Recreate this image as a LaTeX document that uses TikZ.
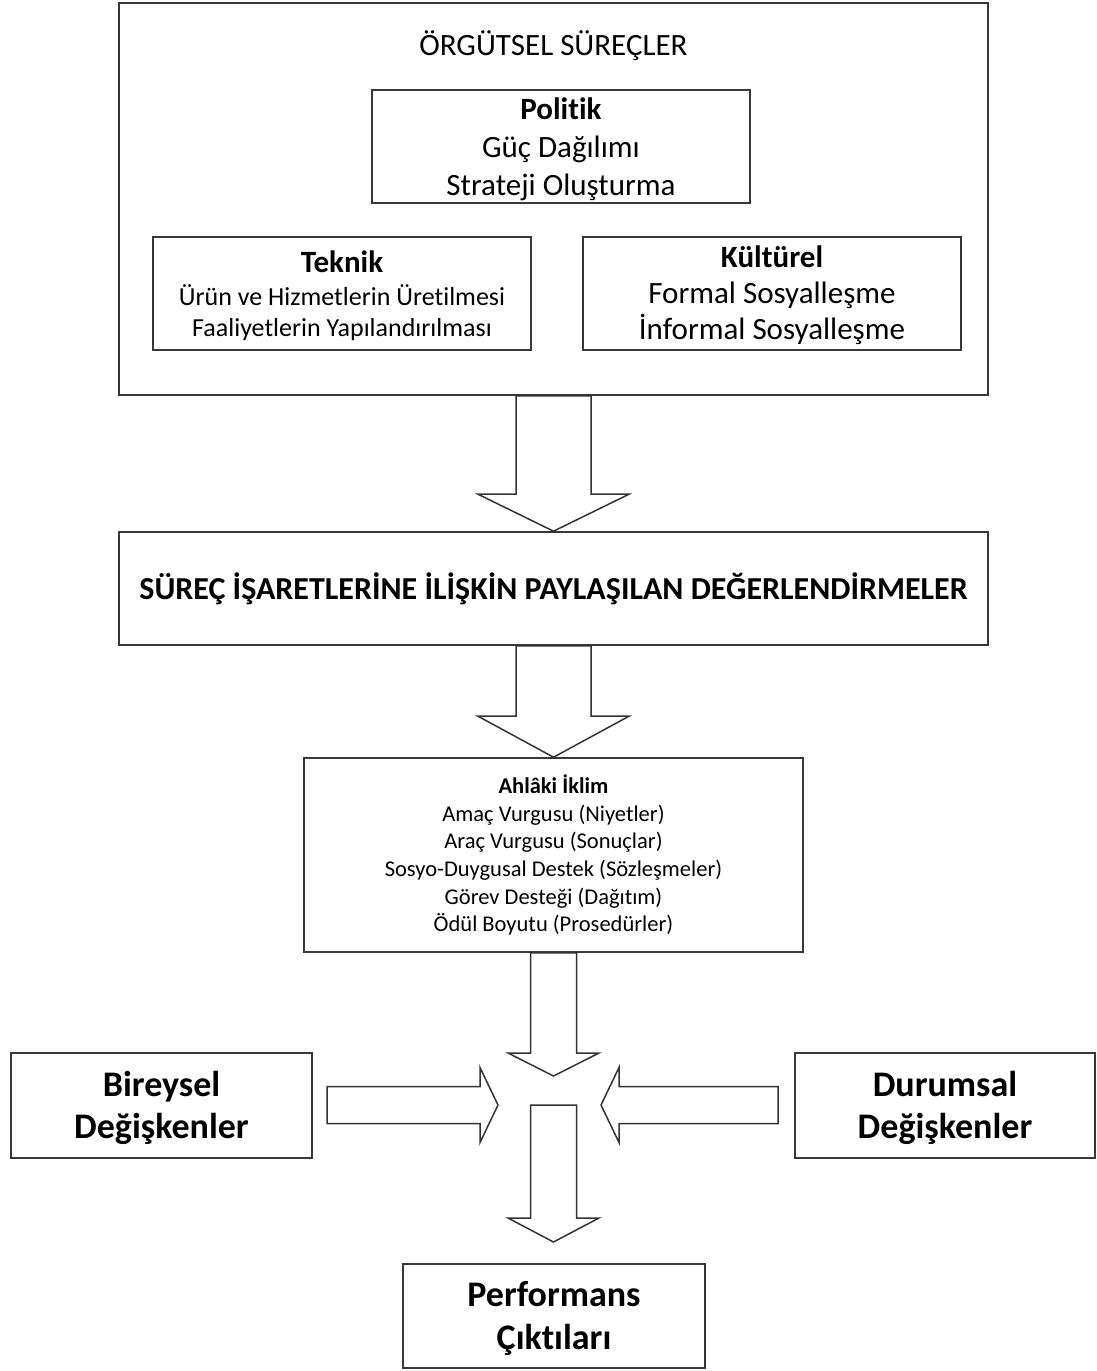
\documentclass[tikz,border=0pt]{standalone}
\usepackage{fontspec}
\setmainfont{Carlito}[Ligatures=NoCommon]
\usetikzlibrary{calc}
\tikzset{
  box/.style={draw=black!78, line width=1.6pt, fill=white, inner sep=0pt},
  barrow/.style={draw=black!80, line width=1.5pt, fill=white, line join=miter},
  lbl/.style={inner sep=0pt, align=center}
}
\newcommand\blockarrow[5]{%
  \coordinate (ba-h) at ($(#2)!#5!(#1)$);
  \draw[barrow] ($(#1)!#3!90:(#2)$) -- ($(ba-h)!#3!-90:(#1)$) -- ($(ba-h)!#4!-90:(#1)$) -- (#2)
    -- ($(ba-h)!#4!90:(#1)$) -- ($(ba-h)!#3!90:(#1)$) -- ($(#1)!#3!-90:(#2)$) -- cycle;}
\begin{document}
\begin{tikzpicture}[x=1pt, y=-1pt]
\useasboundingbox[fill=white] (0,0) rectangle (1096,1371);
% top group
\node[box, minimum width=869pt, minimum height=392pt] (outer) at (553.5,199) {};
\node[lbl, font=\fontsize{31}{36}\selectfont] (title) at (553.5,46) {ÖRGÜTSEL SÜREÇLER};
\node[box, minimum width=378pt, minimum height=113pt] (pol) at (561,146.5) {};
\node[lbl, font=\fontsize{31}{38}\selectfont] (polt) at ($(pol)+(0,2.5)$)
  {\textbf{Politik}\\ Güç Dağılımı\\ Strateji Oluşturma};
\node[box, minimum width=378pt, minimum height=113pt] (tek) at (342,293.5) {};
\node[lbl, font=\fontsize{26}{31}\selectfont] (tekt) at ($(tek)+(0,2)$)
  {{\fontsize{31}{34}\selectfont\textbf{Teknik}}\\[2pt] Ürün ve Hizmetlerin Üretilmesi\\ Faaliyetlerin Yapılandırılması};
\node[box, minimum width=378pt, minimum height=113pt] (kul) at (772,293.5) {};
\node[lbl, font=\fontsize{31}{36}\selectfont] (kult) at ($(kul)+(0,1.5)$)
  {\textbf{Kültürel}\\ Formal Sosyalleşme\\ İnformal Sosyalleşme};
% middle
\node[box, minimum width=869pt, minimum height=113pt] (sur) at (553.5,588.5) {};
\node[lbl, font=\fontsize{32}{36}\selectfont\bfseries] (surt) at (sur)
  {SÜREÇ İŞARETLERİNE İLİŞKİN PAYLAŞILAN DEĞERLENDİRMELER};
\node[box, minimum width=499pt, minimum height=194pt] (ahl) at (553.5,855) {};
\node[lbl, font=\fontsize{22.5}{27.6}\selectfont] (ahlt) at (ahl)
  {\textbf{Ahlâki İklim}\\ Amaç Vurgusu (Niyetler)\\ Araç Vurgusu (Sonuçlar)\\ Sosyo-Duygusal Destek (Sözleşmeler)\\ Görev Desteği (Dağıtım)\\ Ödül Boyutu (Prosedürler)};
% bottom
\node[box, minimum width=301pt, minimum height=105pt] (bir) at (161.5,1105.5) {};
\node[lbl, font=\fontsize{36}{42}\selectfont\bfseries] (birt) at ($(bir)+(0,2)$) {Bireysel\\ Değişkenler};
\node[box, minimum width=300pt, minimum height=105pt] (dur) at (945,1105.5) {};
\node[lbl, font=\fontsize{36}{42}\selectfont\bfseries] (durt) at ($(dur)+(0,2)$) {Durumsal\\ Değişkenler};
\node[box, minimum width=302pt, minimum height=104pt] (per) at (554,1316) {};
\node[lbl, font=\fontsize{36}{43}\selectfont\bfseries] (pert) at ($(per)+(0,2)$) {Performans\\ Çıktıları};
% arrows
\blockarrow{outer.south}{sur.north}{37.5pt}{75.5pt}{37pt}
\blockarrow{sur.south}{ahl.north}{37.5pt}{75.5pt}{41pt}
\coordinate (meet) at (553.5,1076);
\blockarrow{ahl.south}{meet}{23pt}{45.5pt}{23pt}
\coordinate (dstart) at (553.5,1105);
\coordinate (dtip) at (553.5,1242);
\blockarrow{dstart}{dtip}{23pt}{45.5pt}{24pt}
\coordinate (lstart) at (327,1105);
\coordinate (ltip) at (498,1105);
\blockarrow{lstart}{ltip}{18.5pt}{37.5pt}{18pt}
\coordinate (rstart) at (778,1105);
\coordinate (rtip) at (601,1105);
\blockarrow{rstart}{rtip}{18.5pt}{37.5pt}{18pt}
\end{tikzpicture}
\end{document}
